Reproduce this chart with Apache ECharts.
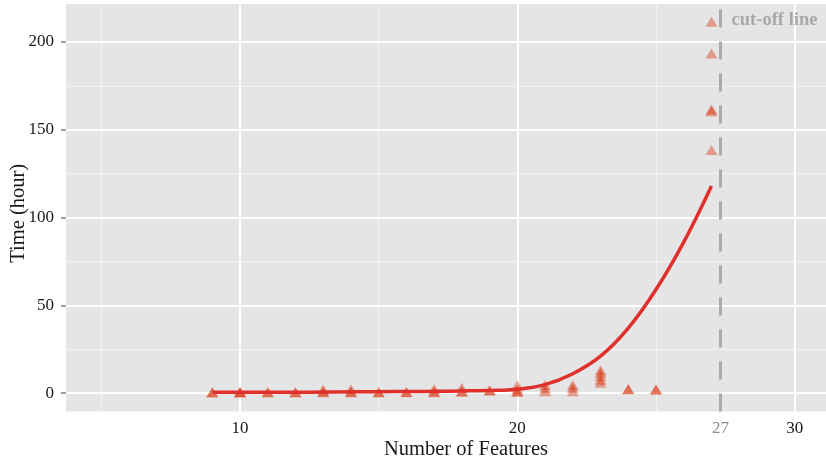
<!DOCTYPE html>
<html>
<head>
<meta charset="utf-8">
<script src="https://cdn.jsdelivr.net/npm/echarts@6/dist/echarts.min.js"></script>
<style>
  html, body { margin: 0; padding: 0; background: #ffffff; }
  #chart { width: 826px; height: 461px; }
</style>
</head>
<body>
<div id="chart"></div>
<script>
// Observed run times per feature count (hours); repeated runs overlap
const pointFeatures = [9, 9, 10, 10, 10, 11, 11, 12, 12, 13, 13, 13, 14, 14, 14, 15, 15, 16, 16,
  17, 17, 17, 18, 18, 18, 19, 19, 20, 20, 20, 20, 21, 21, 21, 22, 22, 22,
  23, 23, 23, 23, 23, 24, 24, 25, 25,
  27, 27, 27, 27, 27];
const pointHours = [0.3, 0.4, 0.3, 0.4, 0.6, 0.4, 0.5, 0.4, 0.5, 0.4, 0.6, 2.0, 0.5, 0.6, 2.2, 0.4, 0.5, 0.5, 0.6,
  0.5, 0.7, 2.3, 0.8, 1.0, 3.0, 1.5, 1.6, 0.7, 0.9, 2.2, 4.5, 1.1, 2.8, 4.6, 1.1, 3.0, 4.6,
  5.9, 7.6, 9.6, 11.4, 13.0, 2.2, 2.3, 2.0, 2.1,
  138.5, 160.5, 161.5, 193.5, 211.5];

// Fitted trend curve
const curveFeatures = [9, 10, 11, 12, 13, 14, 15, 16, 17, 18, 19, 20, 21, 22, 23, 24, 25, 26, 27];
const curveHours = [0.4, 0.4, 0.5, 0.5, 0.6, 0.7, 0.8, 0.9, 1.0, 1.2, 1.5, 2.2, 4.8, 11, 21, 37, 59, 86, 118];

// Cut-off position and axis breaks
const cutoffX = 27.33;
const cutoffLabel = 'cut-off line';
const xTickValues = [10, 20, cutoffX, 30];
const xMajorGrid = [10, 20, 30];
const xMinorGrid = [5, 15, 25];
const yTickValues = [0, 50, 100, 150, 200];
const yMajorGrid = [0, 50, 100, 150, 200];
const yMinorGrid = [25, 75, 125, 175];

const serif = 'Liberation Serif';
const chart = echarts.init(document.getElementById('chart'), null, { renderer: 'canvas' });

const minorStyle = { color: '#F3F3F3', width: 1, type: 'solid' };
const majorStyle = { color: '#FFFFFF', width: 2, type: 'solid' };
const gridLines = []
  .concat(xMinorGrid.map(v => ({ xAxis: v, lineStyle: minorStyle })))
  .concat(yMinorGrid.map(v => ({ yAxis: v, lineStyle: minorStyle })))
  .concat(xMajorGrid.map(v => ({ xAxis: v, lineStyle: majorStyle })))
  .concat(yMajorGrid.map(v => ({ yAxis: v, lineStyle: majorStyle })));

const hiddenAxisLine = { show: true, lineStyle: { color: 'rgba(0,0,0,0)', width: 0 } };

chart.setOption({
  animation: false,
  backgroundColor: '#FFFFFF',
  grid: {
    left: 66, right: 0, top: 4, bottom: 49.5,
    containLabel: false,
    outerBoundsMode: 'none',
    show: true, backgroundColor: '#E5E5E5', borderWidth: 0
  },
  xAxis: {
    type: 'value',
    min: 3.725,
    max: 31.13,
    name: 'Number of Features',
    nameLocation: 'middle',
    nameGap: 28,
    nameMoveOverlap: false,
    nameTextStyle: { fontFamily: serif, fontSize: 20.5, color: '#1A1A1A', padding: [0, 0, 0, 40] },
    axisLine: hiddenAxisLine,
    splitLine: { show: false },
    axisTick: {
      show: true, customValues: xTickValues, length: 5, inside: false,
      lineStyle: { color: '#7F7F7F', width: 1.5 }
    },
    axisLabel: {
      show: true, customValues: xTickValues, margin: 9,
      fontFamily: serif, fontSize: 17,
      formatter: v => String(Math.round(v)),
      color: v => (Math.abs(v - cutoffX) < 1e-6 ? '#8C8C8C' : '#1A1A1A')
    }
  },
  yAxis: {
    type: 'value',
    min: -10.5,
    max: 221.65,
    name: 'Time (hour)',
    nameLocation: 'middle',
    nameRotate: 90,
    nameGap: 37,
    nameMoveOverlap: false,
    nameTextStyle: { fontFamily: serif, fontSize: 20.5, color: '#1A1A1A', padding: [0, 11, 0, 0] },
    axisLine: hiddenAxisLine,
    splitLine: { show: false },
    axisTick: {
      show: true, customValues: yTickValues, length: 5, inside: false,
      lineStyle: { color: '#7F7F7F', width: 1.5 }
    },
    axisLabel: {
      show: true, customValues: yTickValues, margin: 12,
      fontFamily: serif, fontSize: 17, color: '#1A1A1A'
    }
  },
  series: [
    {
      // panel grid lines, kept underneath the data
      name: 'grid',
      type: 'scatter',
      data: [],
      z: 1,
      silent: true,
      markLine: {
        z: 1,
        silent: true,
        symbol: ['none', 'none'],
        label: { show: false },
        animation: false,
        data: gridLines
      }
    },
    {
      // cut-off marker
      name: 'cutoff',
      type: 'scatter',
      data: [],
      z: 1,
      silent: true,
      markLine: {
        z: 1.5,
        silent: true,
        symbol: ['none', 'none'],
        label: { show: false },
        animation: false,
        data: [{ xAxis: cutoffX, lineStyle: { color: '#ABABAB', width: 3, type: [18, 14] } }]
      }
    },
    {
      name: 'runs',
      type: 'scatter',
      z: 3,
      symbol: 'triangle',
      symbolSize: [12, 10],
      itemStyle: { color: 'rgba(215, 42, 0, 0.5)' },
      data: pointFeatures.map((x, i) => [x, pointHours[i]])
    },
    {
      name: 'trend',
      type: 'line',
      z: 4,
      smooth: 0.4,
      showSymbol: false,
      symbol: 'none',
      lineStyle: { color: '#E0302B', width: 3.5 },
      data: curveFeatures.map((x, i) => [x, curveHours[i]])
    },
    {
      name: 'cutoff label',
      type: 'scatter',
      z: 5,
      symbolSize: 0,
      silent: true,
      label: {
        show: true, position: 'right', distance: 11,
        formatter: () => cutoffLabel,
        fontFamily: serif, fontSize: 18.5, fontWeight: 'bold', color: '#9A9A9A'
      },
      data: [[cutoffX, 212.5]]
    }
  ]
});
</script>
</body>
</html>
